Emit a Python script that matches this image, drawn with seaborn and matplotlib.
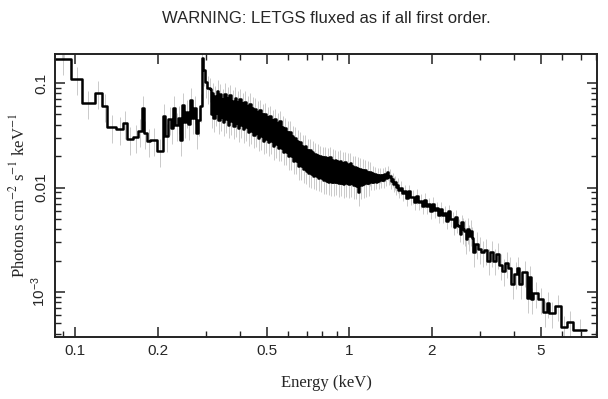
import numpy as np
import pandas as pd
import matplotlib
matplotlib.use('Agg')
import matplotlib.pyplot as plt
import matplotlib.ticker as mticker
import seaborn as sns

# --- spectrum (keV, photons cm^-2 s^-1 keV^-1) ---
# coarse bins below the O edge
low_edges = [
    0.0845, 0.0967, 0.106, 0.118, 0.1255, 0.131, 0.141, 0.150, 0.155, 0.163,
    0.170, 0.176, 0.178, 0.183, 0.188, 0.199, 0.209, 0.213, 0.2185, 0.224,
    0.228, 0.2317, 0.2376, 0.2416, 0.2457, 0.2499, 0.2542, 0.2585, 0.2629, 0.2674,
    0.2719, 0.2765, 0.2812, 0.2860, 0.2896, 0.2933, 0.2982, 0.3033, 0.310,
]
low_flux = [
    0.170, 0.109, 0.0644, 0.080, 0.0603, 0.0379, 0.0363, 0.0414, 0.0291, 0.0304,
    0.0347, 0.0577, 0.0332, 0.0279, 0.0285, 0.0223, 0.0483, 0.0311, 0.0453, 0.0371,
    0.0577, 0.0397, 0.0463, 0.0285, 0.0616, 0.0423, 0.0528, 0.0405, 0.0687, 0.0463,
    0.0577, 0.0332, 0.0443, 0.060, 0.173, 0.133, 0.102, 0.090,
]

# finely binned part: each entry holds a high and a low channel
dense_edges = [
    0.310, 0.317, 0.323, 0.330, 0.337, 0.344, 0.351, 0.359, 0.366, 0.374,
    0.382, 0.390, 0.398, 0.407, 0.415, 0.424, 0.433, 0.442, 0.452, 0.461,
    0.471, 0.481, 0.491, 0.502, 0.512, 0.523, 0.534, 0.546, 0.557, 0.569,
    0.581, 0.594, 0.606, 0.619, 0.632, 0.646, 0.659, 0.673, 0.688, 0.702,
    0.717, 0.732, 0.748, 0.764, 0.780, 0.796, 0.813, 0.831, 0.848, 0.866,
    0.885, 0.903, 0.923, 0.942, 0.962, 0.983, 1.004, 1.025, 1.047, 1.069,
    1.091, 1.115, 1.138, 1.162, 1.187, 1.212, 1.238, 1.264, 1.291, 1.318,
    1.346, 1.375, 1.404, 1.434, 1.464, 1.495, 1.535, 1.587, 1.642, 1.698,
    1.756, 1.816, 1.878, 1.943, 2.009, 2.078, 2.149, 2.222, 2.298, 2.376,
    2.437, 2.499, 2.563, 2.629, 2.696, 2.765, 2.835,
]
dense_hi = [
    0.088, 0.080, 0.075, 0.084, 0.078, 0.070, 0.079, 0.072, 0.076, 0.068,
    0.072, 0.066, 0.070, 0.064, 0.066, 0.060, 0.063, 0.058, 0.057, 0.053,
    0.055, 0.050, 0.051, 0.047, 0.048, 0.044, 0.045, 0.041, 0.043, 0.038,
    0.037, 0.034, 0.034, 0.031, 0.030, 0.028, 0.027, 0.025, 0.025, 0.023,
    0.023, 0.022, 0.021, 0.0205, 0.020, 0.0195, 0.0195, 0.019, 0.0195, 0.0185,
    0.0182, 0.0178, 0.0180, 0.0172, 0.0175, 0.0168, 0.0170, 0.0160, 0.0158, 0.0155,
    0.0152, 0.0148, 0.0146, 0.0142, 0.0140, 0.0137, 0.0135, 0.0133, 0.0132, 0.0133,
    0.0136, 0.0140, 0.0130, 0.0120, 0.0112, 0.0106, 0.0100, 0.0092, 0.0092, 0.0082,
    0.0083, 0.0075, 0.0076, 0.0069, 0.0070, 0.0063, 0.0062, 0.0057, 0.0059, 0.0050,
    0.0052, 0.0043, 0.0047, 0.0038, 0.0040, 0.0038,
]
dense_lo = [
    0.050, 0.046, 0.052, 0.044, 0.047, 0.042, 0.045, 0.040, 0.043, 0.039,
    0.041, 0.037, 0.040, 0.036, 0.038, 0.034, 0.035, 0.032, 0.033, 0.030,
    0.031, 0.028, 0.029, 0.027, 0.028, 0.025, 0.026, 0.024, 0.024, 0.022,
    0.022, 0.020, 0.020, 0.018, 0.018, 0.016, 0.016, 0.015, 0.0145, 0.0138,
    0.0135, 0.0130, 0.0128, 0.0124, 0.0122, 0.0118, 0.0116, 0.0114, 0.0113, 0.0112,
    0.0114, 0.0110, 0.0111, 0.0108, 0.0110, 0.0108, 0.0110, 0.0105, 0.0104, 0.0090,
    0.0106, 0.0108, 0.0110, 0.0111, 0.0112, 0.0113, 0.0114, 0.0116, 0.0117, 0.0119,
    0.0122, 0.0125, 0.0116, 0.0108, 0.0102, 0.0094, 0.0088, 0.0080, 0.0081, 0.0072,
    0.0073, 0.0066, 0.0066, 0.0060, 0.0061, 0.0055, 0.0054, 0.0048, 0.0050, 0.0042,
    0.0044, 0.0036, 0.0040, 0.0032, 0.0034, 0.0033,
]

# coarse bins at high energy
high_edges = [
    2.835, 2.884, 2.957, 3.033, 3.110, 3.189, 3.270, 3.354, 3.439, 3.527,
    3.617, 3.709, 3.804, 3.901, 4.001, 4.103, 4.173, 4.280, 4.464, 4.540,
    4.617, 4.696, 4.896, 5.106, 5.280, 5.370, 5.646, 5.938, 6.245, 6.568,
    7.328,
]
high_flux = [
    0.0024, 0.0029, 0.0026, 0.0024, 0.0025, 0.0020, 0.0024, 0.0020, 0.0023, 0.0018,
    0.0016, 0.0019, 0.0017, 0.0012, 0.0015, 0.0017, 0.0012, 0.00155, 0.00088, 0.0014,
    0.00085, 0.00098, 0.00085, 0.00064, 0.00078, 0.00063, 0.00073, 0.00046, 0.00052, 0.00043,
]

# fractional 1-sigma errors, by energy band
err_band_start = [0.08, 0.31, 1.2, 2.6]
err_band_frac = [0.30, 0.26, 0.16, 0.28]

x_ticks = [0.1, 0.2, 0.5, 1, 2, 5]
x_labels = ['0.1', '0.2', '0.5', '1', '2', '5']
x_minor = [0.09, 0.3, 0.4, 0.6, 0.7, 0.8, 0.9, 3, 4, 6, 7, 8]
y_ticks = [1e-3, 1e-2, 0.1]
y_labels = ['$\\mathregular{10^{-3}}$', '0.01', '0.1']

sns.set_style('ticks')
plt.rcParams['font.family'] = ['Liberation Sans', 'DejaVu Sans']
plt.rcParams['mathtext.fontset'] = 'stix'

# assemble the step curve: left edge of every channel + flux
step_x = list(low_edges[:-1])
step_y = list(low_flux)
for i in range(len(dense_hi)):
    a, b = dense_edges[i], dense_edges[i + 1]
    step_x += [a, np.sqrt(a * b)]
    step_y += [dense_hi[i], dense_lo[i]]
step_x += high_edges[:-1] + [high_edges[-1]]
step_y += high_flux + [high_flux[-1]]

df = pd.DataFrame({'energy': step_x, 'flux': step_y})
edges = np.array(step_x)
f = np.array(step_y[:-1])
centres = np.sqrt(edges[:-1] * edges[1:])
frac = np.array(err_band_frac)[np.searchsorted(err_band_start, centres) - 1]

fig, ax = plt.subplots(figsize=(6.08, 3.99), dpi=100)
fig.subplots_adjust(left=0.0905, right=0.982, bottom=0.155, top=0.865)

ax.vlines(centres, f * (1 - frac), f * (1 + frac), color='#cacaca', lw=0.7, zorder=1)
sns.lineplot(data=df, x='energy', y='flux', drawstyle='steps-post', color='black',
             lw=1.8, estimator=None, sort=False, ax=ax, zorder=2)

ax.set_xscale('log')
ax.set_yscale('log')
ax.set_xlim(0.0845, 8.04)
ax.set_ylim(3.7e-4, 0.19)

ax.xaxis.set_major_locator(mticker.FixedLocator(x_ticks))
ax.xaxis.set_major_formatter(mticker.FixedFormatter(x_labels))
ax.xaxis.set_minor_locator(mticker.FixedLocator(x_minor))
ax.xaxis.set_minor_formatter(mticker.NullFormatter())
ax.yaxis.set_major_locator(mticker.FixedLocator(y_ticks))
ax.yaxis.set_major_formatter(mticker.FixedFormatter(y_labels))
ax.yaxis.set_minor_locator(mticker.LogLocator(base=10, subs=np.arange(2, 10)))
ax.yaxis.set_minor_formatter(mticker.NullFormatter())

ax.tick_params(which='both', direction='in', top=True, right=True, color='#222222', labelsize=11)
ax.tick_params(which='major', length=7, width=1.1, pad=5)
ax.tick_params(which='minor', length=4, width=1.0)
for lab in ax.get_yticklabels():
    lab.set_rotation(90)
    lab.set_va('center')
for sp in ax.spines.values():
    sp.set_linewidth(1.4)
    sp.set_color('#222222')

ax.set_xlabel('Energy (keV)', family=['Liberation Serif'], fontsize=12, labelpad=12)
ax.set_ylabel('Photons cm$^{-2}$ s$^{-1}$ keV$^{-1}$', family=['Liberation Serif'],
              fontsize=12, labelpad=1)
ax.set_title('WARNING: LETGS fluxed as if all first order.', fontsize=12, pad=22)

fig.savefig('out.png', dpi=100)
